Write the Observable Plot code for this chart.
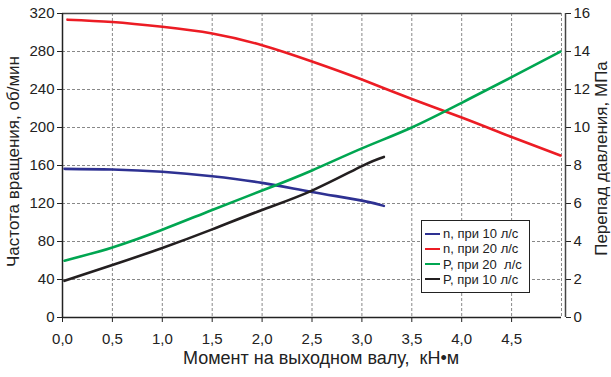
<!DOCTYPE html>
<html>
<head>
<meta charset="utf-8">
<script src="https://cdn.jsdelivr.net/npm/d3@7"></script>
<script src="https://cdn.jsdelivr.net/npm/@observablehq/plot@0.6"></script>
<style>
  body { margin: 0; background: #fff; }
  #wrap { position: relative; width: 611px; height: 377px; }
  #wrap svg text { white-space: pre; }
  #legend { position: absolute; left: 421px; top: 220px; width: 107px; height: 71px;
    border: 1px solid #222; background: #fff; font-family: "Liberation Sans", Arial, sans-serif;
    font-size: 13px; color: #222; }
  .item { position: absolute; left: 3px; height: 15px; line-height: 15px; white-space: pre; }
  .sw { display: inline-block; width: 15px; height: 2px; vertical-align: middle; margin-right: 3px; position: relative; top: -1px; }
</style>
</head>
<body>
<div id="wrap"></div>
<script>
// Moment (kN·m)
const x10 = [0.02, 0.5, 1.0, 1.5, 2.0, 2.5, 3.0, 3.22];
const x20n = [0.05, 0.5, 1.0, 1.5, 2.0, 2.5, 3.0, 3.5, 4.0, 4.5, 4.99];
const x20p = [0.02, 0.5, 1.0, 1.5, 2.0, 2.5, 3.0, 3.5, 4.0, 4.5, 4.99];
// rotation speed, rpm
const n10 = [156.5, 155.8, 153.4, 148.7, 141.7, 132.2, 123, 117.5];
const n20 = [313.5, 311, 306, 299, 286.6, 269.5, 250.5, 230, 210.5, 190, 170.5];
// pressure drop, MPa
const P20 = [2.99, 3.69, 4.62, 5.66, 6.68, 7.74, 8.9, 10.0, 11.3, 12.65, 14.0];
const P10 = [1.93, 2.76, 3.66, 4.64, 5.66, 6.68, 7.97, 8.45];

const seriesNames = ["n, при 10 л/с", "n, при 20 л/с", "P, при 20  л/с", "P, при 10 л/с"];
const seriesColors = ["#2e3192", "#ec1c24", "#00a651", "#231f20"];

const xTicks = [0, 0.5, 1, 1.5, 2, 2.5, 3, 3.5, 4, 4.5];
const yTicks = [0, 40, 80, 120, 160, 200, 240, 280, 320];
const pScale = 20; // 16 MPa <-> 320 rpm

const titleY = "Частота вращения, об/мин";
const titleY2 = "Перепад давления, МПа";
const titleX = "Момент на выходном валу,  кН•м";

const rows = [];
x10.forEach((x, i) => rows.push({s: seriesNames[0], x, y: n10[i]}));
x20n.forEach((x, i) => rows.push({s: seriesNames[1], x, y: n20[i]}));
x20p.forEach((x, i) => rows.push({s: seriesNames[2], x, y: P20[i] * pScale}));
x10.forEach((x, i) => rows.push({s: seriesNames[3], x, y: P10[i] * pScale}));

const font = '"Liberation Sans", Arial, sans-serif';
const fmt = d => d.toFixed(1).replace(".", ",");

const chart = Plot.plot({
  width: 611,
  height: 377,
  marginLeft: 62,
  marginRight: 50,
  marginTop: 13,
  marginBottom: 60,
  style: {fontFamily: font, fontSize: "15px", color: "#222", background: "#fff"},
  x: {domain: [0, 5]},
  y: {domain: [0, 320]},
  color: {domain: seriesNames, range: seriesColors},
  marks: [
    Plot.gridX([0.5, 1, 1.5, 2, 2.5, 3, 3.5, 4, 4.5, 5], {stroke: "#888", strokeOpacity: 1, strokeDasharray: "3,2"}),
    Plot.gridY([40, 80, 120, 160, 200, 240, 280], {stroke: "#888", strokeOpacity: 1, strokeDasharray: "3,2"}),
    Plot.axisX({ticks: xTicks, tickFormat: fmt, tickSize: 5, tickPadding: 11, label: null, fontSize: 15}),
    Plot.axisY({ticks: yTicks, tickSize: 5, tickPadding: 3, label: null, fontSize: 15}),
    Plot.axisY({anchor: "right", ticks: yTicks, tickFormat: d => String(d / pScale), tickSize: 5, tickPadding: 3, label: null, dx: 4, fontSize: 15}),
    Plot.ruleY([320], {stroke: "#444", strokeWidth: 1.5}),
    Plot.ruleX([5], {stroke: "#444", strokeWidth: 1.5, dx: 4}),
    Plot.ruleX([0], {stroke: "#222", strokeWidth: 1.5}),
    Plot.ruleY([0], {stroke: "#222", strokeWidth: 1.5}),
    Plot.line(rows, {x: "x", y: "y", z: "s", stroke: "s", strokeWidth: 2.6, curve: "natural"}),
    Plot.text([titleY], {text: d => d, frameAnchor: "left", textAnchor: "middle", rotate: -90, dx: -49, dy: -4, fontSize: 17, fill: "#222"}),
    Plot.text([titleY2], {text: d => d, frameAnchor: "right", textAnchor: "middle", rotate: -90, dx: 40, dy: -7, fontSize: 17, fill: "#222"}),
    Plot.text([titleX], {text: d => d, frameAnchor: "bottom", textAnchor: "middle", dy: 46, dx: 9, fontSize: 18, fill: "#222"})
  ]
});

const wrap = document.getElementById("wrap");
wrap.appendChild(chart);

const legend = document.createElement("div");
legend.id = "legend";
seriesNames.forEach((name, i) => {
  const it = document.createElement("div");
  it.className = "item";
  it.style.top = (5 + i * 15.3) + "px";
  it.innerHTML = `<span class="sw" style="background:${seriesColors[i]}"></span>${name}`;
  legend.appendChild(it);
});
wrap.appendChild(legend);
</script>
</body>
</html>
